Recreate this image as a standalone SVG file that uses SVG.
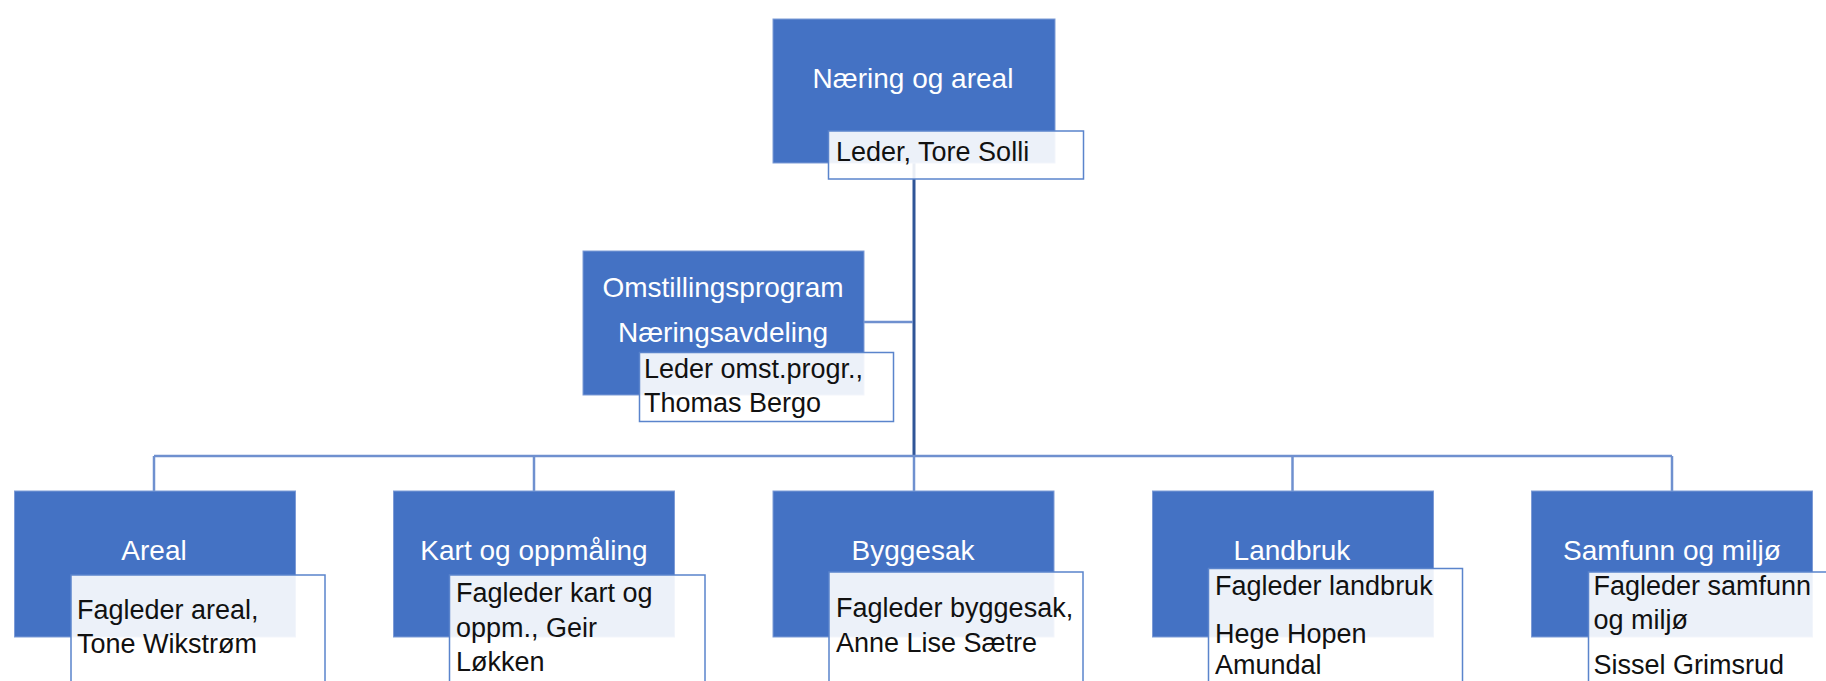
<svg xmlns="http://www.w3.org/2000/svg" width="1826" height="681" viewBox="0 0 1826 681">
<style>
.unit{fill:#4472c4;stroke:#7d9bd6;stroke-width:1}
.sub{fill:#ffffff;fill-opacity:0.9;stroke:#5a84cc;stroke-width:1.5}
.t{font-family:"Liberation Sans",Arial,sans-serif;font-size:28px;fill:#ffffff;text-anchor:middle}
.s{font-family:"Liberation Sans",Arial,sans-serif;font-size:27px;fill:#111111}
.bus{fill:none;stroke:#6f90cf;stroke-width:2.5}
.main{fill:none;stroke:#2f5597;stroke-width:3}
</style>
<rect width="1826" height="681" fill="#ffffff"/>
<g id="connectors">
  <line class="main" x1="914" y1="163" x2="914" y2="457"/>
  <line class="bus" x1="864" y1="322" x2="913" y2="322" stroke="#8faadc"/>
  <line class="bus" x1="154" y1="456" x2="1672" y2="456"/>
  <line class="bus" x1="154" y1="456" x2="154" y2="491"/>
  <line class="bus" x1="534" y1="456" x2="534" y2="491"/>
  <line class="bus" x1="914" y1="456" x2="914" y2="491"/>
  <line class="bus" x1="1292.5" y1="456" x2="1292.5" y2="491"/>
  <line class="bus" x1="1672" y1="456" x2="1672" y2="491"/>
</g>
<g id="node-naering">
  <rect class="unit" x="773" y="19" width="282" height="144"/>
  <text class="t" x="913" y="88">Næring og areal</text>
  <rect class="sub" x="828.5" y="131" width="255" height="48"/>
  <text class="s" x="836" y="161">Leder, Tore Solli</text>
</g>
<g id="node-omstilling">
  <rect class="unit" x="583" y="251" width="281" height="144"/>
  <text class="t" x="723" y="297">Omstillingsprogram</text>
  <text class="t" x="723" y="342">Næringsavdeling</text>
  <rect class="sub" x="639.5" y="352.5" width="254" height="69"/>
  <text class="s" x="644" y="378">Leder omst.progr.,</text>
  <text class="s" x="644" y="412">Thomas Bergo</text>
</g>
<g id="node-areal">
  <rect class="unit" x="14.5" y="491" width="281" height="146"/>
  <text class="t" x="154" y="560">Areal</text>
  <rect class="sub" x="71" y="575" width="254" height="130"/>
  <text class="s" x="77" y="619">Fagleder areal,</text>
  <text class="s" x="77" y="653">Tone Wikstrøm</text>
</g>
<g id="node-kart">
  <rect class="unit" x="393.5" y="491" width="281" height="146"/>
  <text class="t" x="534" y="560">Kart og oppmåling</text>
  <rect class="sub" x="449.5" y="575" width="255.5" height="130"/>
  <text class="s" x="456" y="602">Fagleder kart og</text>
  <text class="s" x="456" y="636.5">oppm., Geir</text>
  <text class="s" x="456" y="671">Løkken</text>
</g>
<g id="node-byggesak">
  <rect class="unit" x="773" y="491" width="281" height="146"/>
  <text class="t" x="913" y="560">Byggesak</text>
  <rect class="sub" x="829" y="572" width="254" height="130"/>
  <text class="s" x="836" y="617">Fagleder byggesak,</text>
  <text class="s" x="836" y="652">Anne Lise Sætre</text>
</g>
<g id="node-landbruk">
  <rect class="unit" x="1152.5" y="491" width="281" height="146"/>
  <text class="t" x="1292" y="560">Landbruk</text>
  <rect class="sub" x="1208.5" y="568.5" width="254" height="130"/>
  <text class="s" x="1215" y="594.5">Fagleder landbruk</text>
  <text class="s" x="1215" y="643">Hege Hopen</text>
  <text class="s" x="1215" y="674">Amundal</text>
</g>
<g id="node-samfunn">
  <rect class="unit" x="1531.5" y="491" width="281" height="146"/>
  <text class="t" x="1672" y="560">Samfunn og miljø</text>
  <rect class="sub" x="1588.5" y="572" width="260" height="130"/>
  <text class="s" x="1593.5" y="595">Fagleder samfunn</text>
  <text class="s" x="1593.5" y="628.5">og miljø</text>
  <text class="s" x="1593.5" y="673.5">Sissel Grimsrud</text>
</g>
</svg>
